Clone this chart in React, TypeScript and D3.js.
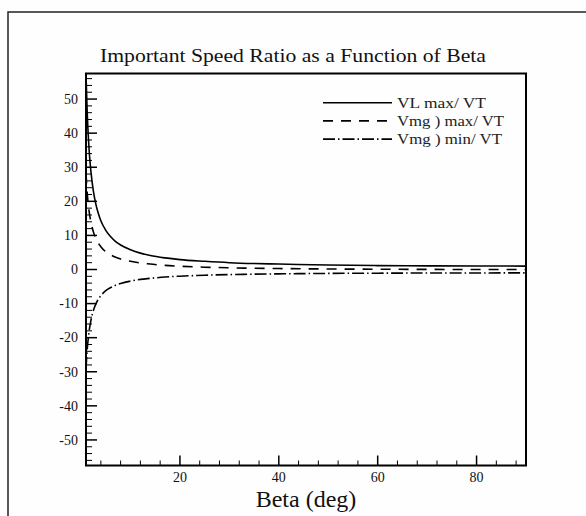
import React, { useEffect, useRef } from "react";
import * as d3 from "d3";

const betas = [1, 1.25, 1.5, 1.75, 2, 2.5, 3, 3.5, 4, 5, 6, 7, 8, 10, 12, 14, 17, 20, 25, 30, 35, 40, 50, 60, 70, 80, 90];
const vlMax = [57.3, 45.8, 38.2, 32.7, 28.7, 22.9, 19.1, 16.4, 14.3, 11.5, 9.6, 8.2, 7.2, 5.8, 4.8, 4.1, 3.4, 2.9, 2.4, 2.0, 1.75, 1.6, 1.3, 1.15, 1.06, 1.02, 1.0];
const vmgMax = [28.2, 22.4, 18.6, 15.9, 13.9, 11.0, 9.1, 7.7, 6.7, 5.2, 4.3, 3.6, 3.1, 2.4, 1.9, 1.6, 1.2, 0.96, 0.68, 0.5, 0.37, 0.28, 0.15, 0.08, 0.03, 0.01, 0.0];
const vmgMin = [-29.2, -23.4, -19.6, -16.9, -14.9, -12.0, -10.1, -8.7, -7.7, -6.2, -5.3, -4.6, -4.1, -3.4, -2.9, -2.6, -2.2, -1.96, -1.68, -1.5, -1.37, -1.28, -1.15, -1.08, -1.03, -1.01, -1.0];

const seriesNames = ["VL max/ VT", "Vmg ) max/ VT", "Vmg ) min/ VT"];
const xMajorTicks = [20, 40, 60, 80];
const yMajorTicks = [-50, -40, -30, -20, -10, 0, 10, 20, 30, 40, 50];
const title = "Important Speed Ratio as a Function of Beta";
const xTitle = "Beta (deg)";

const W = 586;
const H = 516;
const L = 86, R = 526, T = 73.5, B = 465.5;
const dashes = [null, "10,8", "12,3,1.5,3"];
const legendTextLen = [89, 107, 105];

export default function App() {
  const ref = useRef<SVGSVGElement>(null);
  useEffect(() => {
    const svg = d3.select(ref.current);
    svg.selectAll("*").remove();
    const font = "Liberation Serif, Times New Roman, serif";
    svg.append("rect").attr("width", W).attr("height", H).attr("fill", "#fefefe");
    svg.append("path").attr("d", `M8,${H} L8,12 L${W},12`).attr("fill", "none").attr("stroke", "#222").attr("stroke-width", 1.5);

    const x = d3.scaleLinear().domain([1, 90]).range([L, R]);
    const y = d3.scaleLinear().domain([-57.5, 57.5]).range([B, T]);

    svg.append("text").attr("x", 293).attr("y", 62).attr("text-anchor", "middle")
      .style("font-family", font).attr("font-size", 19).attr("fill", "#111")
      .attr("textLength", 386).attr("lengthAdjust", "spacingAndGlyphs").text(title);

    svg.append("defs").append("clipPath").attr("id", "clip").append("rect")
      .attr("x", L).attr("y", T).attr("width", R - L).attr("height", B - T);

    const series = [vlMax, vmgMax, vmgMin];
    const line = d3.line<number>().x((_, i) => x(betas[i])).y((d) => y(d)).curve(d3.curveMonotoneX);
    const g = svg.append("g").attr("clip-path", "url(#clip)");
    series.forEach((s, k) => {
      const p = g.append("path").attr("d", line(s)).attr("fill", "none").attr("stroke", "#000").attr("stroke-width", 1.6);
      if (dashes[k]) p.attr("stroke-dasharray", dashes[k] as string);
    });

    const tg = svg.append("g").attr("stroke", "#000");
    const yMinor = d3.range(-56, 57, 2).filter((v) => v % 10 !== 0);
    yMinor.forEach((v) => tg.append("line").attr("x1", L).attr("x2", L + 6).attr("y1", y(v)).attr("y2", y(v)).attr("stroke-width", 1));
    yMajorTicks.forEach((v) => tg.append("line").attr("x1", L).attr("x2", L + 11).attr("y1", y(v)).attr("y2", y(v)).attr("stroke-width", 1.5));
    const xMinor = d3.range(4, 90, 4).filter((v) => v % 20 !== 0);
    xMinor.forEach((v) => tg.append("line").attr("x1", x(v)).attr("x2", x(v)).attr("y1", B).attr("y2", B - 5).attr("stroke-width", 1));
    xMajorTicks.forEach((v) => tg.append("line").attr("x1", x(v)).attr("x2", x(v)).attr("y1", B).attr("y2", B - 10).attr("stroke-width", 1.5));

    svg.append("rect").attr("x", L).attr("y", T).attr("width", R - L).attr("height", B - T)
      .attr("fill", "none").attr("stroke", "#000").attr("stroke-width", 2);

    yMajorTicks.forEach((v) => svg.append("text").attr("x", 78).attr("y", y(v) + 4.8).attr("text-anchor", "end")
      .style("font-family", font).attr("font-size", 14).attr("fill", "#111").text(String(v)));
    xMajorTicks.forEach((v) => svg.append("text").attr("x", x(v)).attr("y", B + 16).attr("text-anchor", "middle")
      .style("font-family", font).attr("font-size", 14).attr("fill", "#111").text(String(v)));

    svg.append("text").attr("x", (L + R) / 2).attr("y", 507).attr("text-anchor", "middle")
      .style("font-family", font).attr("font-size", 24).attr("fill", "#111").text(xTitle);

    seriesNames.forEach((name, k) => {
      const ly = 102.7 + k * 18.2;
      const p = svg.append("line").attr("x1", 323).attr("x2", 392).attr("y1", ly).attr("y2", ly)
        .attr("stroke", "#000").attr("stroke-width", 1.6);
      if (dashes[k]) p.attr("stroke-dasharray", dashes[k] as string);
      svg.append("text").attr("x", 397).attr("y", ly + 5).style("font-family", font).attr("font-size", 14)
        .attr("fill", "#222").attr("textLength", legendTextLen[k]).attr("lengthAdjust", "spacingAndGlyphs").text(name);
    });
  }, []);
  return <svg ref={ref} width={W} height={H} style={{ position: "absolute", left: 0, top: 0, display: "block" }} />;
}
